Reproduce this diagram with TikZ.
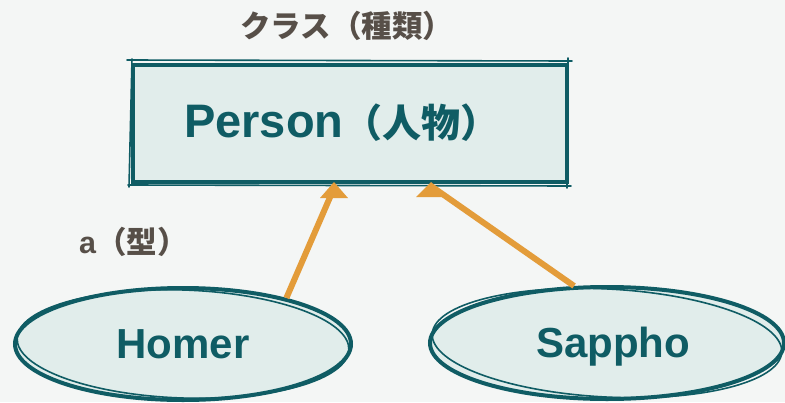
\documentclass[tikz,border=0pt]{standalone}
\usepackage{fontspec}
\setmainfont{Liberation Sans}
\newfontfamily\cjk{Noto Sans CJK JP}
\usetikzlibrary{shapes.geometric,calc}
\definecolor{bg}{HTML}{F4F6F5}
\definecolor{teal}{HTML}{0F5C64}
\definecolor{paleteal}{HTML}{E1EDEB}
\definecolor{labelgray}{HTML}{574F48}
\definecolor{arroworange}{HTML}{E39C3A}
\tikzset{
  classbox/.style={draw=teal, fill=paleteal, line width=4pt, rectangle, minimum width=434pt, minimum height=117pt, inner sep=0pt},
  objellipse/.style={draw=teal, fill=paleteal, line width=4pt, ellipse, inner sep=0pt, text=teal, font=\bfseries\fontsize{42}{42}\selectfont},
  caption/.style={text=labelgray, inner sep=0pt, font=\bfseries\fontsize{30.5}{30}\selectfont},
  link/.style={draw=arroworange, line width=6pt},
  tiphead/.style={fill=arroworange},
  sketch/.style={draw=teal, line width=1.6pt, line cap=round},
}
\begin{document}
\begin{tikzpicture}[x=1pt,y=-1pt]
\useasboundingbox[fill=bg] (0,0) rectangle (785,402);
% class box
\node[classbox] (person) at (350,123.5) {};
\draw[sketch] ($(person.north west)+(-4,-3)$) -- ($(person.north east)+(3,-2)$);
\draw[sketch] ($(person.north east)+(-1,-5)$) -- ($(person.south east)+(-2,4)$);
\draw[sketch] ($(person.south east)+(2,2)$) -- ($(person.south west)+(-3,1)$);
\draw[sketch] ($(person.south west)+(-2,3)$) -- ($(person.north west)+(1,-4)$);
\node[text=teal, inner sep=0pt, anchor=base west, font=\bfseries\fontsize{47}{47}\selectfont] (ptext) at (184,137) {Person{\cjk\fontsize{39}{39}\selectfont（人物）}};
% captions
\node[caption, anchor=base west] (kind) at (240,37) {\cjk クラス（種類）};
\node[caption, anchor=base west] (type) at (79,253) {a{\cjk（型）}};
% objects
\node[objellipse, minimum width=336pt, minimum height=112pt] (homer) at (183,344) {Homer};
\draw[sketch, rotate around={-2:(homer.center)}] (homer.center) ellipse [x radius=166pt, y radius=54pt];
\node[objellipse, minimum width=354pt, minimum height=112pt, text height=37pt] (sappho) at (607,343) {\hspace*{12pt}Sappho};
\draw[sketch, rotate around={-3:(sappho.center)}] (sappho.center) ellipse [x radius=175pt, y radius=54pt];
% arrows
\coordinate (t1) at (334,182);
\coordinate (t2) at (431,182);
\draw[link] (homer.24) -- ($(t1)+(0,6)$);
\draw[link] (sappho.120) -- ($(t2)+(0,4)$);
\fill[tiphead] (t1) -- ++(-14,16) -- ++(28,0) -- cycle;
\fill[tiphead] (t2) -- ++(-15,15) -- ++(30,0) -- cycle;
\end{tikzpicture}
\end{document}
